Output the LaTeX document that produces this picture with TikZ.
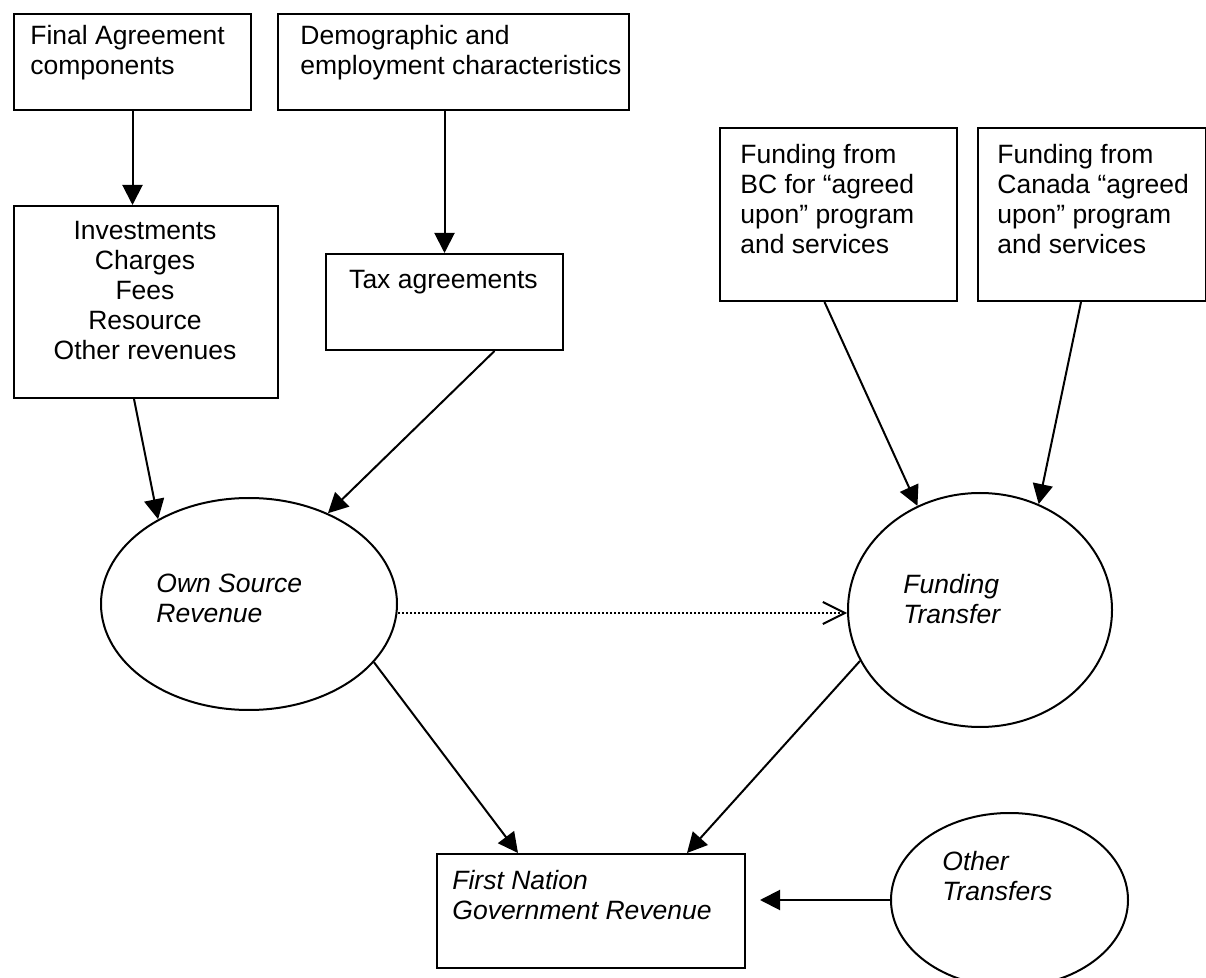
\documentclass[tikz,border=0pt]{standalone}
\usepackage{fontspec}
\setmainfont{Liberation Sans}
\usetikzlibrary{arrows.meta,shapes.geometric}

\begin{document}
\begin{tikzpicture}[
  x=0.5pt,
  y=-0.5pt,
  every node/.style={font=\fontsize{13.25}{15}\selectfont, inner sep=0pt},
  box/.style={draw, line width=1pt, anchor=north west},
  oval/.style={draw, ellipse, line width=1pt},
  txt/.style={anchor=north west, align=left},
  arr/.style={line width=1pt, -{Triangle[length=10pt, width=10pt]}},
  link/.style={line width=1pt, dash pattern=on 1pt off 1pt,
    -{Straight Barb[length=11pt, width=11pt]}}
]
  \useasboundingbox (0,0) rectangle (1206,978);

  % ---- own source side -------------------------------------------------
  \node[box, minimum width=118.5pt, minimum height=48pt] (final) at (13,13) {};
  \node[txt] (finaltxt) at (30,25) {Final Agreement\\components};
  \node[box, minimum width=175.5pt, minimum height=48pt] (demog) at (277,13) {};
  \node[txt] (demogtxt) at (300,25) {Demographic and\\employment characteristics};
  \node[box, minimum width=132pt, minimum height=96pt] (invest) at (13,205) {};
  \node[anchor=north, align=center] (investtxt) at (145,221)
    {Investments\\Charges\\Fees\\Resource\\Other revenues};
  \node[box, minimum width=118.5pt, minimum height=48pt] (tax) at (325,253) {};
  \node[anchor=north] (taxtxt) at (443.5,270) {Tax agreements};

  % ---- transfer side ---------------------------------------------------
  \node[box, minimum width=118.5pt, minimum height=86.5pt] (bcfund) at (719,127) {};
  \node[txt] (bctxt) at (740,144)
    {Funding from\\BC for “agreed\\upon” program\\and services};
  \node[box, minimum width=114pt, minimum height=86.5pt] (cafund) at (977,127) {};
  \node[txt] (catxt) at (997,144)
    {Funding from\\Canada “agreed\\upon” program\\and services};

  % ---- the revenue streams ---------------------------------------------
  \node[oval, minimum width=148pt, minimum height=106pt] (own) at (249,604) {};
  \node[txt, font=\fontsize{13.25}{15}\selectfont\itshape] (owntxt) at (156,574)
    {Own Source\\Revenue};
  \node[oval, minimum width=132pt, minimum height=117pt] (fund) at (980,610) {};
  \node[txt, font=\fontsize{13.25}{15}\selectfont\itshape] (fundtxt) at (903,574)
    {Funding\\Transfer};
  \node[oval, minimum width=118.5pt, minimum height=87pt] (other) at (1009.5,900) {};
  \node[txt, font=\fontsize{13.25}{15}\selectfont\itshape] (othertxt) at (942,851)
    {Other\\Transfers};
  \node[box, minimum width=154pt, minimum height=57pt] (result) at (436,853) {};
  \node[txt, font=\fontsize{13.25}{15}\selectfont\itshape] (resulttxt) at (452,870)
    {First Nation\\Government Revenue};

  % ---- arrows ----------------------------------------------------------
  \draw[arr] (final.south) -- (final.south |- invest.north);
  \draw[arr] (tax.north |- demog.south) -- (tax.north);
  \draw[arr] ([xshift=-6pt]invest.south) -- (own.137);
  \draw[arr] ([xshift=25pt]tax.south) -- (own.49);
  \draw[arr] ([xshift=-7pt]bcfund.south) -- (fund.121);
  \draw[arr] ([xshift=-5.5pt]cafund.south) -- (fund.61);
  \draw[link] ([yshift=-4.5pt]own.east) -- ([yshift=-4.5pt]own.east -| fund.west);
  \draw[arr] (own.-25) -- ([xshift=-36.5pt]result.north);
  \draw[arr] (fund.203) -- ([xshift=48pt]result.north);
  \draw[arr, shorten >=7pt] (other.west) -- (other.west -| result.east);
\end{tikzpicture}
\end{document}
